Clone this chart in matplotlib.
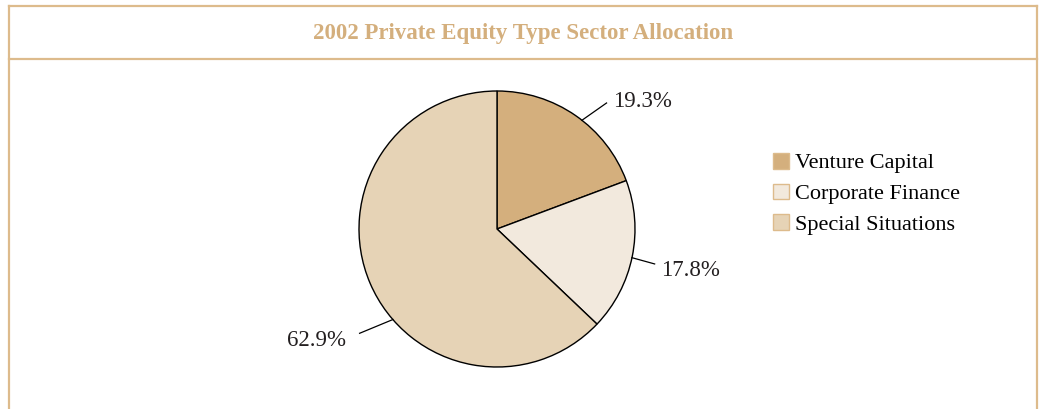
import numpy as np
import matplotlib.pyplot as plt
from matplotlib.patches import Patch
from matplotlib.lines import Line2D

sectors = ["Venture Capital", "Corporate Finance", "Special Situations"]
shares = [19.3, 17.8, 62.9]
colors = ["#D4AF7D", "#F2E9DD", "#E6D3B6"]
pct_labels = ["19.3%", "17.8%", "62.9%"]

tan = "#DDBB8C"
title_color = "#D4AF7D"
plt.rcParams["font.family"] = ["Liberation Serif", "DejaVu Serif"]

W, H = 1039, 409
fig = plt.figure(figsize=(W / 100, H / 100), dpi=100)


def fx(px):
    return px / W


def fy(py):
    return 1 - py / H


# outer frame with title band (open at the bottom)
frame = dict(color=tan, lw=1.6, transform=fig.transFigure)
fig.add_artist(Line2D([fx(9), fx(9)], [fy(6), 0], **frame))
fig.add_artist(Line2D([fx(1037), fx(1037)], [fy(6), 0], **frame))
fig.add_artist(Line2D([fx(9), fx(1037)], [fy(6), fy(6)], **frame))
fig.add_artist(Line2D([fx(9), fx(1037)], [fy(59), fy(59)], **frame))

fig.text(fx(523), fy(34), "2002 Private Equity Type Sector Allocation",
         ha="center", va="center", fontsize=16.5, fontweight="bold",
         color=title_color)

# pie
cx, cy, r = 497, 229, 138
ax = fig.add_axes([fx(cx - r), fy(cy + r), 2 * r / W, 2 * r / H])
wedges, _ = ax.pie(shares, colors=colors, startangle=90, counterclock=False,
                   wedgeprops=dict(edgecolor="black", linewidth=1.0))
ax.set_xlim(-1, 1)
ax.set_ylim(-1, 1)
ax.set_aspect("equal")
ax.axis("off")

# leader lines and value labels (text offset in axes units from line end)
leader_angles = [52, -12, -139]
leader_ends = [(1.21, 49), (1.17, -12.5), (1.25, -142.8)]
text_offsets = [(0.045, 0.01), (0.045, -0.045), (-0.1, -0.055)]
for lab, a0, (re, ae), (dx, dy) in zip(pct_labels, leader_angles,
                                       leader_ends, text_offsets):
    x0, y0 = np.cos(np.radians(a0)), np.sin(np.radians(a0))
    x1, y1 = re * np.cos(np.radians(ae)), re * np.sin(np.radians(ae))
    ax.plot([x0, x1], [y0, y1], color="black", lw=0.9, clip_on=False)
    ax.text(x1 + dx, y1 + dy, lab, ha="left" if x1 >= 0 else "right",
            va="center", fontsize=16.5, color="#231F20")

handles = [Patch(facecolor=c, edgecolor=tan, linewidth=1.0) for c in colors]
fig.legend(handles, sectors, loc="upper left",
           bbox_to_anchor=(fx(766), fy(146)), frameon=False, fontsize=16,
           handlelength=0.72, handleheight=0.72, handletextpad=0.3,
           labelspacing=0.46, borderaxespad=0, borderpad=0.3)

fig.savefig("out.png", dpi=100)
